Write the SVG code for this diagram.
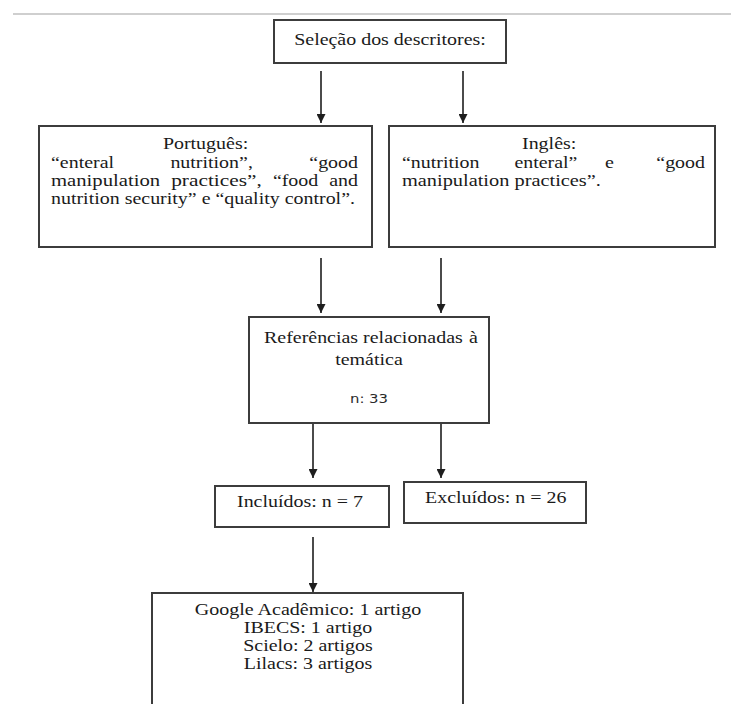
<svg xmlns="http://www.w3.org/2000/svg" width="731" height="704" viewBox="0 0 731 704">
  <style>
    .box { fill: #ffffff; stroke: #3c3c3c; stroke-width: 2; }
    .t { font-family: "Liberation Serif", "Times New Roman", serif; font-size: 16.5px; fill: #1a1a1a; }
    .s { font-family: "DejaVu Sans", "Liberation Sans", sans-serif; font-size: 13px; fill: #2a2a2a; }
    .conn { stroke: #1e1e1e; stroke-width: 1.6; fill: none; marker-end: url(#arrow); }
  </style>
  <defs>
    <marker id="arrow" markerUnits="userSpaceOnUse" markerWidth="10" markerHeight="9" refX="9" refY="4.5" orient="auto">
      <path d="M0,0 L9,4.5 L0,9 z" fill="#1e1e1e"/>
    </marker>
  </defs>
  <rect width="731" height="704" fill="#ffffff"/>
  <line x1="13" y1="14" x2="731" y2="14" stroke="#cfcfcf" stroke-width="2"/>

  <g id="connectors">
    <line class="conn" x1="321" y1="71" x2="321" y2="123"/>
    <line class="conn" x1="463" y1="71" x2="463" y2="123"/>
    <line class="conn" x1="321" y1="258" x2="321" y2="313"/>
    <line class="conn" x1="441" y1="258" x2="441" y2="313"/>
    <line class="conn" x1="313" y1="423" x2="313" y2="478"/>
    <line class="conn" x1="441" y1="423" x2="441" y2="478"/>
    <line class="conn" x1="313" y1="537" x2="313" y2="592"/>
  </g>

  <g id="selecao">
    <rect class="box" x="274" y="20" width="232" height="43"/>
    <text class="t" x="294.2" y="45" textLength="191.6" lengthAdjust="spacingAndGlyphs">Seleção dos descritores:</text>
  </g>

  <g id="portugues">
    <rect class="box" x="39" y="126" width="333" height="121"/>
    <text class="t" x="162.9" y="149" textLength="85.3" lengthAdjust="spacingAndGlyphs">Português:</text>
    <text class="t" x="51" y="168" textLength="63.1" lengthAdjust="spacingAndGlyphs">“enteral</text>
    <text class="t" x="170.4" y="168" textLength="82.5" lengthAdjust="spacingAndGlyphs">nutrition”,</text>
    <text class="t" x="309.3" y="168" textLength="48.7" lengthAdjust="spacingAndGlyphs">“good</text>
    <text class="t" x="51" y="186" textLength="109.2" lengthAdjust="spacingAndGlyphs">manipulation</text>
    <text class="t" x="171.2" y="186" textLength="90.7" lengthAdjust="spacingAndGlyphs">practices”,</text>
    <text class="t" x="272.9" y="186" textLength="45.4" lengthAdjust="spacingAndGlyphs">“food</text>
    <text class="t" x="329.2" y="186" textLength="28.8" lengthAdjust="spacingAndGlyphs">and</text>
    <text class="t" x="51" y="204" textLength="304" lengthAdjust="spacingAndGlyphs">nutrition security” e “quality control”.</text>
  </g>

  <g id="ingles">
    <rect class="box" x="389" y="126" width="326" height="121"/>
    <text class="t" x="522" y="149" textLength="54.3" lengthAdjust="spacingAndGlyphs">Inglês:</text>
    <text class="t" x="402" y="168" textLength="77.5" lengthAdjust="spacingAndGlyphs">“nutrition</text>
    <text class="t" x="514.4" y="168" textLength="63.1" lengthAdjust="spacingAndGlyphs">enteral”</text>
    <text class="t" x="605" y="168" textLength="8.9" lengthAdjust="spacingAndGlyphs">e</text>
    <text class="t" x="656.3" y="168" textLength="48.7" lengthAdjust="spacingAndGlyphs">“good</text>
    <text class="t" x="402" y="186" textLength="198.9" lengthAdjust="spacingAndGlyphs">manipulation practices”.</text>
  </g>

  <g id="referencias">
    <rect class="box" x="249" y="317" width="240" height="106"/>
    <text class="t" x="264" y="343" textLength="198.8" lengthAdjust="spacingAndGlyphs">Referências relacionadas</text>
    <text class="t" x="469.1" y="343" textLength="8.9" lengthAdjust="spacingAndGlyphs">à</text>
    <text class="t" x="335.2" y="365" textLength="67.6" lengthAdjust="spacingAndGlyphs">temática</text>
    <text class="s" x="350" y="403" textLength="38" lengthAdjust="spacingAndGlyphs">n: 33</text>
  </g>

  <g id="incluidos">
    <rect class="box" x="215" y="486" width="174" height="41"/>
    <text class="t" x="237" y="507" textLength="125.9" lengthAdjust="spacingAndGlyphs">Incluídos: n = 7</text>
  </g>

  <g id="excluidos">
    <rect class="box" x="404" y="482" width="182" height="41"/>
    <text class="t" x="425" y="503" textLength="141.4" lengthAdjust="spacingAndGlyphs">Excluídos: n = 26</text>
  </g>

  <g id="bases">
    <rect class="box" x="152" y="593" width="311" height="130"/>
    <text class="t" x="194.7" y="615" textLength="226.5" lengthAdjust="spacingAndGlyphs">Google Acadêmico: 1 artigo</text>
    <text class="t" x="243.8" y="633" textLength="128.5" lengthAdjust="spacingAndGlyphs">IBECS: 1 artigo</text>
    <text class="t" x="243.2" y="651" textLength="129.6" lengthAdjust="spacingAndGlyphs">Scielo: 2 artigos</text>
    <text class="t" x="243.8" y="669" textLength="128.5" lengthAdjust="spacingAndGlyphs">Lilacs: 3 artigos</text>
  </g>
</svg>
